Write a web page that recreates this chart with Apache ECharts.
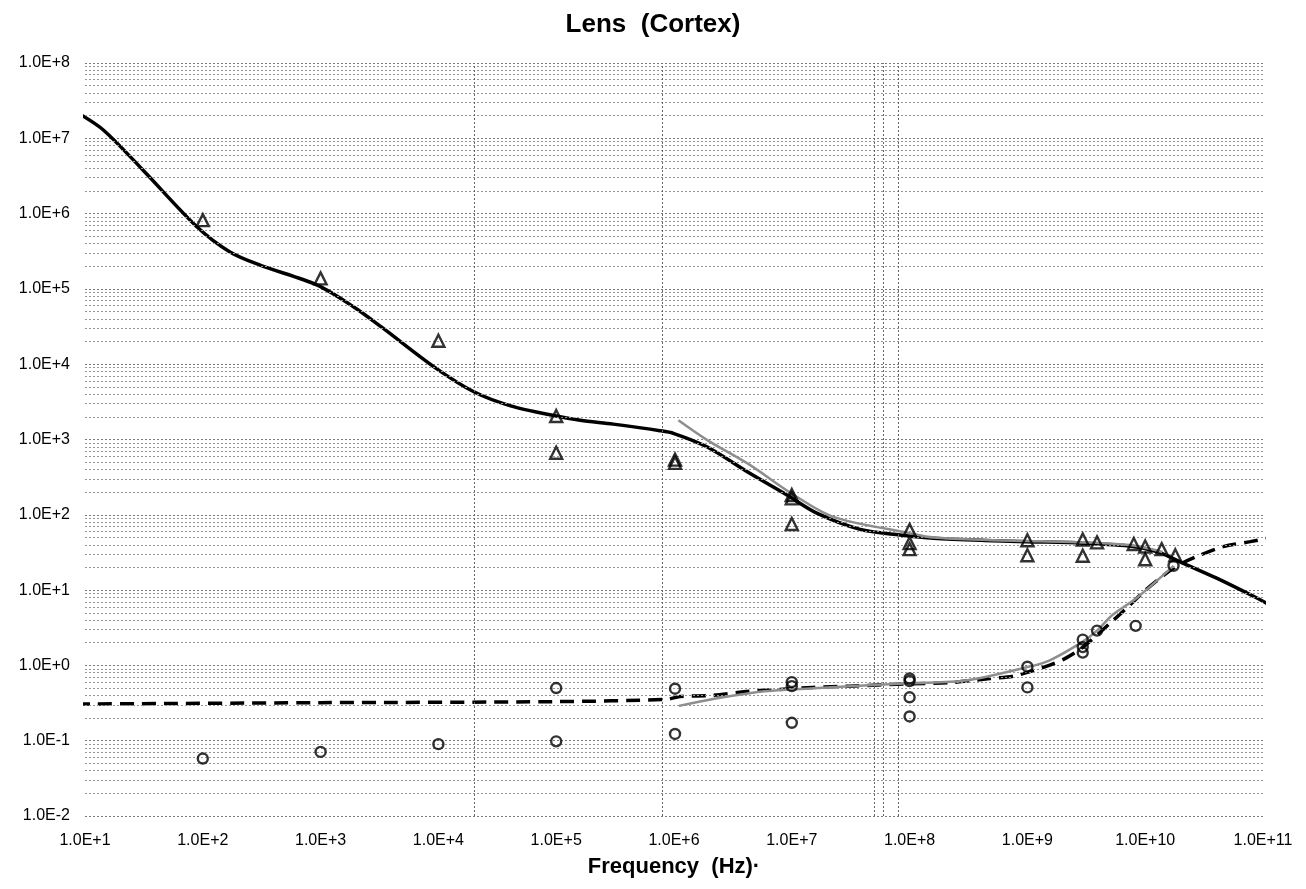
<!DOCTYPE html>
<html>
<head>
<meta charset="utf-8">
<script src="https://cdn.jsdelivr.net/npm/echarts@6/dist/echarts.min.js"></script>
<style>
  html, body { margin: 0; padding: 0; background: #fff; }
  #chart { width: 1306px; height: 889px; }
</style>
</head>
<body>
<div id="chart"></div>
<script>
// ---- data ----
const titleText = 'Lens  (Cortex)';
const xName = 'Frequency  (Hz)\u00b7';

// permittivity model (solid black)
const permModelF = [8.4, 14.3, 31, 89, 170, 306, 927, 1900, 3300, 9100, 20000, 41000, 100000, 160000, 305000, 760000, 1000000, 1900000, 4400000, 9100000, 16300000, 38000000, 83000000, 160000000, 510000000, 990000000, 3000000000, 7900000000, 13000000000, 20000000000, 40000000000, 88000000000, 115000000000];
const permModelV = [2.24e7, 1.29e7, 3.8e6, 6.7e5, 3.1e5, 2.07e5, 1.13e5, 5.8e4, 3.1e4, 9.3e3, 4.3e3, 2.8e3, 2.05e3, 1.8e3, 1.6e3, 1.31e3, 1.2e3, 800, 356, 183, 105, 64, 54, 48.8, 45.3, 44, 42, 38, 32, 23.5, 14.5, 7.9, 6.3];

// permittivity fit (grey)
const permFitF = [1090000, 1900000, 4400000, 9800000, 22500000, 100000000, 160000000, 500000000, 1000000000, 3000000000, 7900000000, 14000000000];
const permFitV = [1800, 990, 460, 195, 94, 57, 50, 46, 45, 43, 39, 32];

// conductivity model (dashed black)
const condModelF = [8.4, 1000, 100000, 870000, 1120000, 2100000, 4100000, 7900000, 15000000, 31000000, 95000000, 220000000, 480000000, 760000000, 1050000000, 1550000000, 2100000000, 2950000000, 5000000000, 6900000000, 9700000000, 13800000000, 18600000000, 29000000000, 46000000000, 78000000000, 110000000000];
const condModelV = [0.307, 0.32, 0.33, 0.355, 0.385, 0.40, 0.45, 0.48, 0.51, 0.53, 0.57, 0.59, 0.67, 0.72, 0.83, 1.01, 1.24, 1.74, 3.6, 5.7, 9.5, 15, 21, 29, 37.8, 44, 48.8];

// conductivity fit (grey)
const condFitF = [1100000, 2200000, 4500000, 8000000, 20000000, 100000000, 300000000, 1000000000, 1550000000, 2950000000, 3900000000, 5300000000, 8400000000, 17400000000];
const condFitV = [0.29, 0.36, 0.43, 0.47, 0.51, 0.58, 0.63, 0.95, 1.17, 2.07, 2.9, 4.7, 7.8, 21];

// measured permittivity (triangles)
const permDataF = [100, 1000, 10000, 100000, 100000, 1020000, 1020000, 10000000, 10000000, 10000000, 100000000, 100000000, 100000000, 1000000000, 1000000000, 2950000000, 2950000000, 3900000000, 8000000000, 10000000000, 10000000000, 13800000000, 18000000000];
const permDataV = [8.2e5, 1.38e5, 2.05e4, 2050, 668, 540, 490, 183, 165, 75.5, 63, 42, 35, 46, 29, 47, 28.6, 43, 41, 38, 25.7, 35, 29];

// measured conductivity (circles)
const condDataF = [100, 1000, 10000, 100000, 100000, 1020000, 1020000, 10000000, 10000000, 10000000, 100000000, 100000000, 100000000, 100000000, 1000000000, 1000000000, 2950000000, 2950000000, 2950000000, 3900000000, 8300000000, 17400000000];
const condDataV = [0.058, 0.071, 0.09, 0.50, 0.098, 0.49, 0.123, 0.60, 0.53, 0.173, 0.67, 0.62, 0.377, 0.21, 0.96, 0.51, 2.2, 1.75, 1.48, 2.9, 3.35, 21];

// extra vertical rules visible in the reference
const vRules = [20000, 800000, 50000000, 60000000, 80000000];
// minor horizontal rules: multipliers inside each decade
const minorMult = [2, 3, 4, 5, 6, 7, 8, 9];
const decadeExp = [-2, -1, 0, 1, 2, 3, 4, 5, 6, 7];

// ---- build ----
const zip = (a, b) => a.map((v, i) => [v, b[i]]);
const fmt = v => {
  const e = Math.round(Math.log10(v));
  return '1.0E' + (e < 0 ? '-' : '+') + Math.abs(e);
};
const minorLines = [];
decadeExp.forEach(e => minorMult.forEach(m => minorLines.push({ yAxis: m * Math.pow(10, e) })));

const font = '"Liberation Sans", Arial, Helvetica, sans-serif';
const chart = echarts.init(document.getElementById('chart'));
chart.setOption({
  backgroundColor: '#fff',
  animation: false,
  title: {
    text: titleText, left: 'center', top: 7,
    textStyle: { fontFamily: font, fontSize: 26, fontWeight: 'bold', color: '#000' }
  },
  grid: { left: 85, right: 43, top: 63, bottom: 73 },
  xAxis: {
    type: 'log', logBase: 10, min: 10, max: 1e11, interval: 1,
    name: xName, nameLocation: 'middle', nameGap: 40,
    nameTextStyle: { fontFamily: font, fontSize: 22, fontWeight: 'bold', color: '#000' },
    axisLine: { show: false }, axisTick: { show: false }, splitLine: { show: false },
    axisLabel: { formatter: fmt, fontFamily: font, fontSize: 16, color: '#000', margin: 17 }
  },
  yAxis: {
    type: 'log', logBase: 10, min: 0.01, max: 1e8, interval: 1,
    axisLine: { show: false }, axisTick: { show: false },
    splitLine: { show: true, lineStyle: { color: '#7a7a7a', type: [2, 2], width: 1 } },
    axisLabel: { formatter: fmt, fontFamily: font, fontSize: 16, color: '#000', margin: 15 }
  },
  series: [
    {
      name: 'grid', type: 'line', data: [], silent: true,
      markLine: {
        silent: true, symbol: 'none', label: { show: false }, animation: false,
        lineStyle: { color: '#959595', type: [2, 2], width: 1 },
        data: minorLines.concat(vRules.map(v => ({ xAxis: v, lineStyle: { color: '#666', type: [2, 2], width: 1 } })))
      }
    },
    {
      name: 'permModel', type: 'line', data: zip(permModelF, permModelV), clip: false,
      showSymbol: false, smooth: 0.3, lineStyle: { color: '#000', width: 3.5 }, z: 4
    },
    {
      name: 'permFit', type: 'line', data: zip(permFitF, permFitV), clip: false,
      showSymbol: false, smooth: 0.3, lineStyle: { color: '#8e8e8e', width: 2.5 }, z: 5
    },
    {
      name: 'condModel', type: 'line', data: zip(condModelF, condModelV), clip: false,
      showSymbol: false, smooth: 0.3, lineStyle: { color: '#000', width: 3.5, type: [14, 8] }, z: 4
    },
    {
      name: 'condFit', type: 'line', data: zip(condFitF, condFitV), clip: false,
      showSymbol: false, smooth: 0.3, lineStyle: { color: '#8e8e8e', width: 2.5 }, z: 5
    },
    {
      name: 'permData', type: 'scatter', data: zip(permDataF, permDataV),
      symbol: 'triangle', symbolSize: [12, 12],
      itemStyle: { color: 'rgba(255,255,255,0)', borderColor: '#000', borderWidth: 2.4 }, z: 6
    },
    {
      name: 'condData', type: 'scatter', data: zip(condDataF, condDataV),
      symbol: 'circle', symbolSize: 10,
      itemStyle: { color: 'rgba(255,255,255,0)', borderColor: '#000', borderWidth: 2.4 }, z: 6
    }
  ]
});
</script>
</body>
</html>
